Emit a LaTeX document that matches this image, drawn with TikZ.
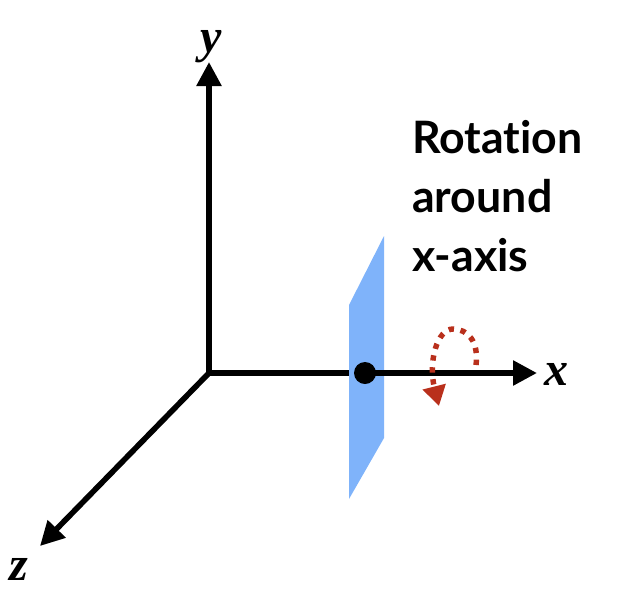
\documentclass[tikz,border=0pt]{standalone}
\usepackage{fontspec}
\setmainfont{Lato}[Ligatures=CommonOff]
\newfontfamily\axisfont{Liberation Serif}
\usetikzlibrary{arrows.meta}
\definecolor{planeblue}{HTML}{7FB3FA}
\definecolor{rotred}{HTML}{B9301C}
\tikzset{
  axis/.style={line width=4.2pt,-{Triangle[length=18pt,width=18pt]}},
  axislabel/.style={font=\axisfont\fontsize{36}{36}\selectfont\bfseries\itshape,inner sep=0pt},
  rotarrow/.style={rotred,line width=4.1pt,dash pattern=on 4pt off 5pt,-{Triangle[length=15pt,width=17pt]}}
}
\begin{document}
\begin{tikzpicture}[x=0.75pt,y=-0.75pt]
  \useasboundingbox (0,0) rectangle (624,608);
  \coordinate (origin) at (209,373);
  \coordinate (ytip) at (209,62);
  \coordinate (xtip) at (537,373);
  \coordinate (ztip) at (40,546);
  \coordinate (rotstart) at (476,365);
  \coordinate (rottop) at (453,329);
  \coordinate (rotend) at (439,406);
  \draw[axis] (origin) -- (xtip);
  \fill[planeblue] (349,305) -- (384,236) -- (384,438) -- (349,499) -- cycle;
  \draw[line width=4.2pt] (372,373) -- (512,373);
  \fill (365,373) circle (11);
  \draw[axis] (origin) -- (ytip);
  \draw[axis] (origin) -- (ztip);
  \draw[rotarrow] (rotstart) .. controls (479,342) and (468,329) .. (rottop)
    .. controls (437,329) and (428,362) .. (rotend);
  \node[axislabel] (ylabel) at (211,47) {y};
  \node[axislabel] (xlabel) at (556,374) {x};
  \node[axislabel] (zlabel) at (19,569) {z};
  \node[anchor=west,align=left,inner sep=0pt,font=\fontsize{33.5}{44.5}\selectfont\bfseries] (rotlabel) at (412,196) {Rotation\\around\\x-axis};
\end{tikzpicture}
\end{document}
